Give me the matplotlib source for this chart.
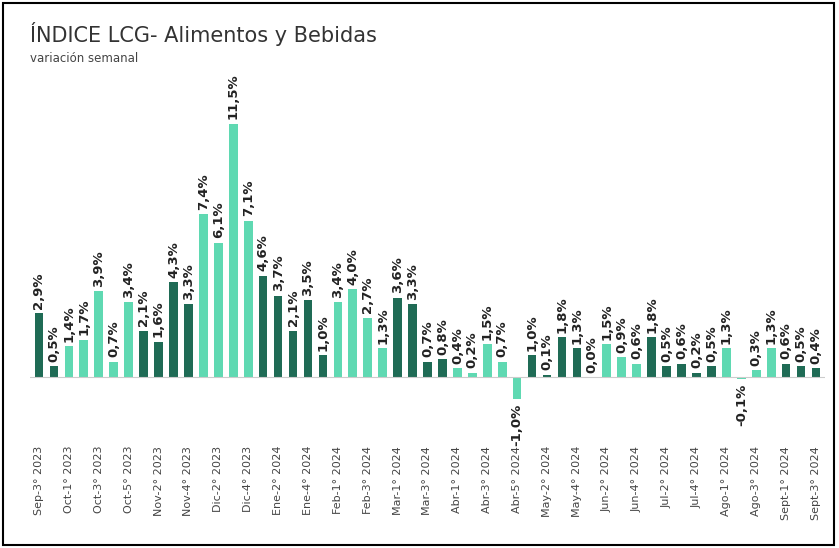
import matplotlib.pyplot as plt
import numpy as np

values = [2.9, 0.5, 1.4, 1.7, 3.9, 0.7, 3.4, 2.1, 1.6, 4.3, 3.3, 7.4, 6.1, 11.5, 7.1,
          4.6, 3.7, 2.1, 3.5, 1.0, 3.4, 4.0, 2.7, 1.3, 3.6, 3.3, 0.7, 0.8, 0.4, 0.2,
          1.5, 0.7, -1.0, 1.0, 0.1, 1.8, 1.3, 0.0, 1.5, 0.9, 0.6, 1.8, 0.5, 0.6, 0.2,
          0.5, 1.3, -0.1, 0.3, 1.3, 0.6, 0.5, 0.4]
# number of weeks per month, alternating dark / light
month_counts = [2, 5, 4, 4, 5, 4, 4, 5, 4, 4, 5, 4, 3]
tick_labels = ["Sep-3° 2023", "Oct-1° 2023", "Oct-3° 2023", "Oct-5° 2023", "Nov-2° 2023",
               "Nov-4° 2023", "Dic-2° 2023", "Dic-4° 2023", "Ene-2° 2024", "Ene-4° 2024",
               "Feb-1° 2024", "Feb-3° 2024", "Mar-1° 2024", "Mar-3° 2024", "Abr-1° 2024",
               "Abr-3° 2024", "Abr-5° 2024", "May-2° 2024", "May-4° 2024", "Jun-2° 2024",
               "Jun-4° 2024", "Jul-2° 2024", "Jul-4° 2024", "Ago-1° 2024", "Ago-3° 2024",
               "Sept-1° 2024", "Sept-3° 2024"]

dark, light = "#1f6b55", "#5fd9b2"
colors = []
for i, c in enumerate(month_counts):
    colors += [dark if i % 2 == 0 else light] * c

W, H = 839, 548
fig = plt.figure(figsize=(W / 100, H / 100), dpi=100)
ax = fig.add_axes([30 / W, 1 - 443 / H, 795 / W, 383 / H])
x = np.arange(len(values))
ax.bar(x, values, width=0.58, color=colors)
for xi, v in zip(x, values):
    s = f"{v:.1f}%".replace(".", ",")
    y = v + 0.2 if v >= 0 else v - 0.2
    ax.text(xi, y, s, rotation=90, ha="center", va="bottom" if v >= 0 else "top",
            fontsize=9.5, fontweight="bold", color="#222222")
ax.axhline(0, color="#cccccc", lw=0.8)
ax.set_xticks(x[::2])
ax.set_xticklabels(tick_labels, rotation=90, fontsize=8, color="#444444")
ax.set_yticks([])
ax.set_xlim(-0.6, len(values) - 0.4)
ax.set_ylim(-3.0, 14.4)
for s in ax.spines.values():
    s.set_visible(False)
ax.tick_params(axis="x", length=0, pad=2)

fig.text(30 / W, 1 - 42 / H, "ÍNDICE LCG- Alimentos y Bebidas", fontsize=15, color="#333333")
fig.text(30 / W, 1 - 62 / H, "variación semanal", fontsize=8.5, color="#444444")
fig.patches.append(plt.Rectangle((0.004, 0.006), 0.99, 0.988, transform=fig.transFigure,
                                 fill=False, edgecolor="black", lw=1.5))
fig.savefig("out.png", dpi=100)
